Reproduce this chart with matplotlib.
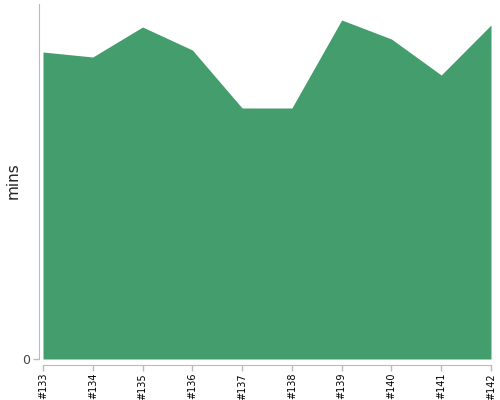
import matplotlib
matplotlib.use("Agg")
import matplotlib.pyplot as plt

builds = ["#133", "#134", "#135", "#136", "#137", "#138", "#139", "#140", "#141", "#142"]
mins = [30.7, 30.2, 33.2, 30.9, 25.1, 25.1, 33.9, 32.0, 28.4, 33.4]

fig = plt.figure(figsize=(5, 4), dpi=100)
ax = fig.add_axes([43 / 500, 41 / 400, 448 / 500, 355 / 400])

x = range(len(builds))
ax.fill_between(x, mins, 0, color="#449d6d", linewidth=0)
ax.set_xlim(0, len(builds) - 1)
ax.set_ylim(0, 35.5)

for s in ["top", "right"]:
    ax.spines[s].set_visible(False)
ax.spines["left"].set_position(("outward", 3))
ax.spines["bottom"].set_position(("outward", 4))
ax.spines["left"].set_color("#bbbbbb")
ax.spines["bottom"].set_color("#bbbbbb")
ax.tick_params(axis="both", colors="#bbbbbb", length=4, width=1)
ax.tick_params(axis="x", labelcolor="black", pad=2, labelrotation=90, labelsize=7)
ax.tick_params(axis="y", labelcolor="#444444", pad=2, labelsize=9)

ax.set_xticks(list(x))
ax.set_xticklabels(builds)
ax.set_yticks([0])
ax.set_yticklabels(["0"])

fig.text(13 / 500, 1 - 181 / 400, "mins", rotation=90, fontsize=11,
         color="#222222", ha="center", va="center")

fig.savefig("out.png")
